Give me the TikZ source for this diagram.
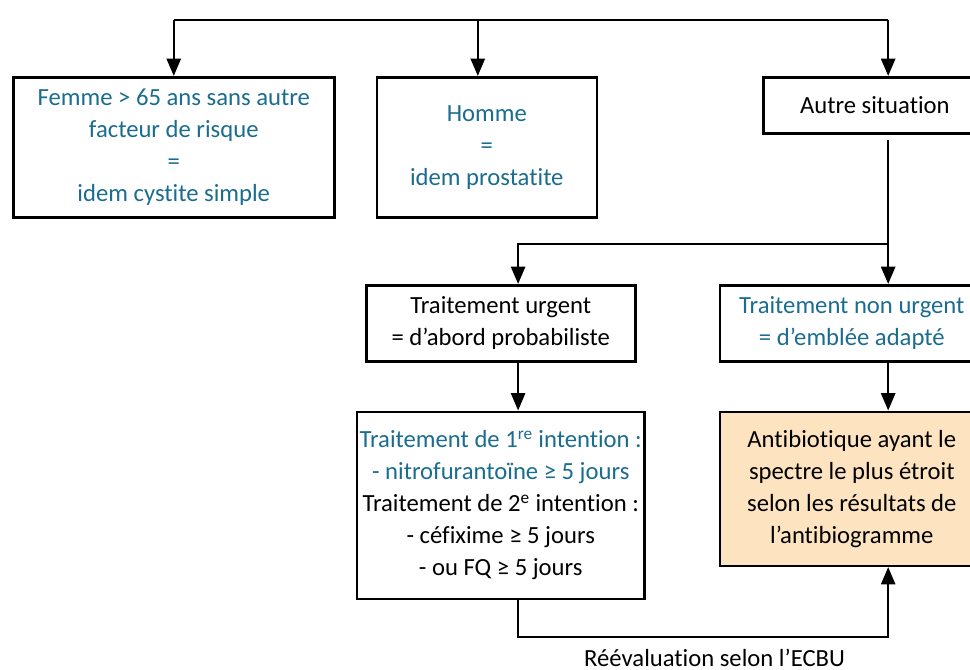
\documentclass[tikz,border=0pt]{standalone}
\usepackage{fontspec}
\setmainfont{Carlito}[Ligatures=NoCommon]
\usetikzlibrary{arrows.meta, positioning, calc}
\definecolor{azulcuadro}{HTML}{1B6D8F}
\definecolor{naranjaclaro}{HTML}{FDE3BF}
\colorlet{colTexto}{black}
\colorlet{colAzul}{azulcuadro}
\colorlet{colRelleno}{naranjaclaro}
\tikzset{
  cajaBase/.style={
    draw=colTexto, line width=1.9pt, inner sep=2pt,
    align=center, font=\fontsize{18.5}{24}\selectfont, text=colTexto,
    fill=white
  },
  cajaAzul/.style={cajaBase, text=colAzul},
  cajaNaranja/.style={cajaBase, fill=colRelleno},
  linea/.style={line width=1.9pt, colTexto},
  flecha/.style={-{Triangle[length=13pt, width=10.5pt]}, linea},
  etiqueta/.style={font=\fontsize{18.5}{24}\selectfont, text=colTexto, inner sep=0pt},
}

\begin{document}
\begin{tikzpicture}
    \useasboundingbox (0,0) rectangle (727.5pt,-502.5pt);

    % Premier niveau
    \node[cajaAzul, anchor=north west, minimum width=240.75pt, minimum height=105pt] (femme) at (9pt,-57pt) {Femme > 65 ans sans autre\\facteur de risque\\=\\idem cystite simple};
    \node[cajaAzul, right=30pt of femme, minimum width=165pt, minimum height=105pt] (homme) {Homme\\=\\idem prostatite};
    \node[cajaBase, right=123pt of homme.north east, anchor=north west, minimum width=167.25pt, minimum height=42pt] (autre) {Autre situation};

    % Autre situation
    \node[cajaBase, anchor=north west, minimum width=201.75pt, minimum height=57pt] (urgent) at (273.75pt,-213pt) {Traitement urgent\\= d’abord probabiliste};
    \node[cajaAzul, right=61.5pt of urgent, minimum width=198pt, minimum height=57pt] (noUrgent) {Traitement non urgent\\= d’emblée adapté};
    \node[cajaBase, below=36pt of urgent, minimum width=201.75pt, minimum height=140.25pt] (primera) {\textcolor{colAzul}{Traitement de 1\textsuperscript{re} intention :}\\\textcolor{colAzul}{- nitrofurantoïne ≥ 5 jours}\\Traitement de 2\textsuperscript{e} intention :\\- céfixime ≥ 5 jours\\- ou FQ ≥ 5 jours};
    \node[cajaNaranja, below=36pt of noUrgent, minimum width=198pt, minimum height=115.5pt] (antibio) {Antibiotique ayant le\\spectre le plus étroit\\selon les résultats de\\l’antibiogramme};

    \coordinate (ejeHomme) at ($(homme.north)+(-6.75pt,0)$);
    \coordinate (ejeIzq) at ($(urgent.north)+(13pt,0)$);
    \coordinate (ejeDer) at ($(autre.south)+(10pt,0)$);
    \coordinate (raiz) at ($(ejeDer |- autre.north)+(0,42pt)$);
    \coordinate (cruce) at ($(ejeDer |- noUrgent.north)+(0,30pt)$);
    \coordinate (bas) at ($(ejeIzq |- primera.south)+(0,-27.75pt)$);

    \draw[linea] (femme.north |- raiz) -- (raiz);
    \draw[flecha] (femme.north |- raiz) -- (femme.north);
    \draw[flecha] (ejeHomme |- raiz) -- (ejeHomme);
    \draw[flecha] (raiz) -- (ejeDer |- autre.north);

    \draw[flecha, shorten <=4pt] (ejeDer) -- (ejeDer |- noUrgent.north);
    \draw[flecha] (cruce) -| (ejeIzq);
    \draw[flecha] (ejeIzq |- urgent.south) -- (ejeIzq |- primera.north);
    \draw[flecha] (ejeDer |- noUrgent.south) -- (ejeDer |- antibio.north);

    % Reevaluation
    \draw[flecha] (ejeIzq |- primera.south) -- (bas) -| (ejeDer |- antibio.south);
    \node[etiqueta, anchor=base] (reeval) at ($(bas)!0.5!(bas -| ejeDer)+(8.6pt,-22pt)$) {Réévaluation selon l’ECBU};
\end{tikzpicture}
\end{document}
